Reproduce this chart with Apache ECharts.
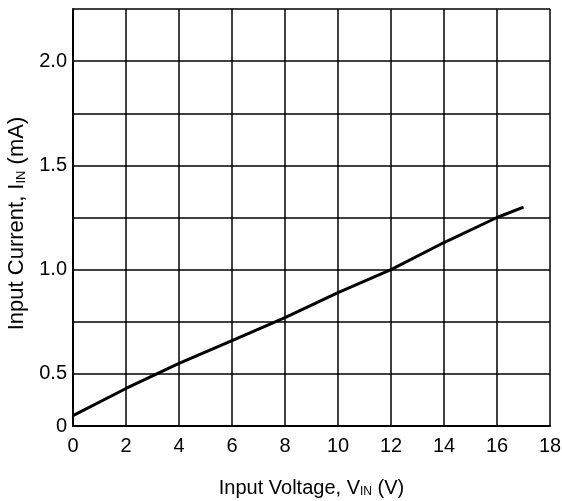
<!DOCTYPE html>
<html>
<head>
<meta charset="utf-8">
<script src="https://cdn.jsdelivr.net/npm/echarts@6/dist/echarts.min.js"></script>
<style>html,body{margin:0;padding:0;background:#fff;}#c{width:562px;height:501px;}</style>
</head>
<body>
<div id="c"></div>
<script>
var voltage = [0, 2, 4, 6, 8, 10, 12, 14, 16, 17];
var current = [0.30, 0.43, 0.55, 0.66, 0.77, 0.89, 1.00, 1.13, 1.25, 1.30];
var xTickLabels = ["0","2","4","6","8","10","12","14","16","18"];
var yTickValues = [0.25, 0.5, 1.0, 1.5, 2.0];
var yTickLabels = ["0", "0.5", "1.0", "1.5", "2.0"];

var font = '"Liberation Sans", Arial, sans-serif';
var chart = echarts.init(document.getElementById('c'), null, {renderer: 'canvas'});
var data = voltage.map(function (v, i) { return [v, current[i]]; });
chart.setOption({
  animation: false,
  backgroundColor: '#fff',
  grid: {left: 73, right: 12, top: 9, bottom: 75, containLabel: false, outerBoundsMode: 'none'},
  xAxis: {
    type: 'value', min: 0, max: 18, interval: 2,
    name: 'Input Voltage, V{sub|IN} (V)',
    nameLocation: 'middle', nameGap: 52,
    nameTextStyle: {fontFamily: font, fontSize: 20, color: '#000',
      rich: {sub: {fontFamily: font, fontSize: 12, color: '#000', verticalAlign: 'bottom', padding: [7, 0, 0, 0]}}},
    axisLine: {show: true, lineStyle: {color: '#000', width: 2}},
    axisTick: {show: false},
    splitLine: {show: true, lineStyle: {color: '#000', width: 1.5}},
    axisLabel: {fontFamily: font, fontSize: 20, color: '#000', margin: 10,
      rich: {hi: {fontFamily: font, fontSize: 20, color: '#000', padding: [0, 0, 6, 0]}},
      formatter: function (v) {
        var i = Math.round(v / 2);
        var s = xTickLabels[i] || '';
        return i === xTickLabels.length - 1 ? '{hi|' + s + '}' : s;
      }}
  },
  yAxis: {
    type: 'value', min: 0.25, max: 2.25, interval: 0.25,
    name: 'Input Current, I{sub|IN} (mA)',
    nameLocation: 'middle', nameGap: 45, nameRotate: 90,
    nameTextStyle: {fontFamily: font, fontSize: 22, color: '#000', padding: [0, 12, 0, 0],
      rich: {sub: {fontFamily: font, fontSize: 13, color: '#000', verticalAlign: 'bottom', padding: [7, 0, 0, 0]}}},
    axisLine: {show: true, lineStyle: {color: '#000', width: 2}},
    axisTick: {show: false},
    splitLine: {show: true, lineStyle: {color: '#000', width: 1.5}},
    axisLabel: {fontFamily: font, fontSize: 20, color: '#000', margin: 6,
      formatter: function (v) {
        for (var i = 0; i < yTickValues.length; i++) {
          if (Math.abs(yTickValues[i] - v) < 1e-6) return yTickLabels[i];
        }
        return '';
      }}
  },
  series: [{
    type: 'line', data: data, showSymbol: false, smooth: false,
    lineStyle: {color: '#000', width: 3}
  }]
});
</script>
</body>
</html>
